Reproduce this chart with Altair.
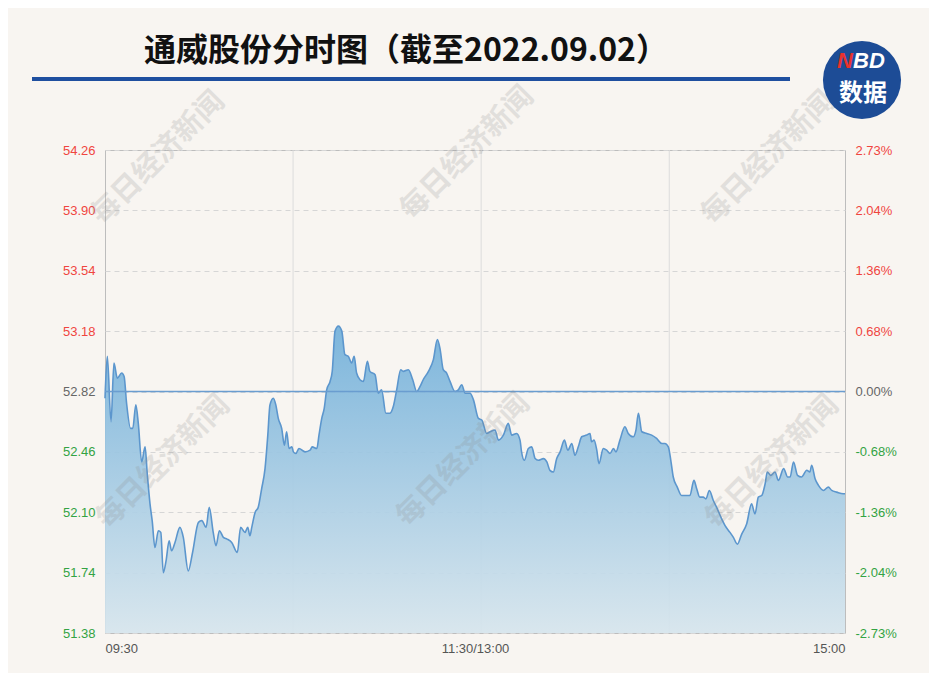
import altair as alt
import pandas as pd

# ---------------- data ----------------
minutes = [0, 0.75, 1.95, 2.9, 4.0, 5.4, 6.2, 7.0, 8.3, 9.0, 10.0, 10.8, 11.9, 13.0, 13.7, 14.6, 15.3,
           16.2, 17.3, 18.1, 18.9, 19.8, 20.8, 21.6, 22.7, 24.3, 25.4, 27.0, 28.4, 30.3, 31.4, 32.8,
           33.8, 35.1, 36.0, 37.1, 38.4, 39.6, 41.1, 42.9, 44.0, 45.4, 46.3, 47.0, 47.6, 48.7, 49.7,
           50.8, 51.9, 52.8, 53.5, 54.6, 55.4, 56.2, 57.3, 58.2, 58.9, 59.7, 60.6, 61.1, 61.9, 62.9,
           64.9, 66.5, 67.2, 68.7, 69.4, 70.3, 71.1, 71.9, 73.0, 73.7, 74.6, 75.7, 76.8, 77.8, 78.9,
           80.0, 80.8, 81.6, 82.7, 83.8, 85.1, 85.9, 87.6, 88.6, 89.7, 91.1, 92.4, 93.5, 94.6, 95.9,
           96.7, 98.4, 99.8, 101.1, 102.2, 103.2, 104.9, 106.5, 107.8, 108.7, 109.7, 110.8, 111.9,
           113.5, 114.6, 115.7, 116.8, 118.4, 119.5, 121.1, 122.2, 123.8, 124.9, 126.5, 127.6, 129.2,
           130.8, 131.9, 133.5, 134.6, 135.1, 136.0, 137.3, 138.4, 139.5, 140.5, 142.2, 143.3, 144.3,
           145.4, 146.5, 147.6, 149.0, 150.1, 151.4, 152.4, 153.5, 154.6, 156.2, 157.3, 157.8, 158.6,
           159.5, 160.2, 161.6, 162.7, 163.8, 164.9, 165.7, 167.0, 168.6, 169.7, 171.3, 172.2, 173.0,
           174.1, 175.7, 177.3, 178.9, 180.6, 181.6, 182.7, 183.5, 184.3, 185.6, 187.0, 188.4, 189.7,
           191.0, 191.9, 192.9, 194.0, 194.9, 196.0, 197.3, 198.6, 200.0, 201.1, 202.7, 203.8, 205.1,
           206.5, 208.1, 209.7, 210.8, 211.9, 213.0, 214.1, 214.8, 215.9, 217.3, 218.4, 220.1, 221.4,
           222.2, 223.3, 224.6, 225.9, 227.6, 228.6, 229.2, 230.3, 231.4, 233.0, 234.6, 235.7, 237.3,
           239.4, 240]
prices = [52.78, 53.03, 52.64, 52.99, 52.90, 52.93, 52.91, 52.75, 52.60, 52.60, 52.74, 52.63, 52.40,
          52.49, 52.33, 52.15, 52.05, 51.89, 51.99, 51.98, 51.74, 51.81, 51.93, 51.87, 51.92, 52.01,
          51.95, 51.75, 51.86, 52.04, 52.05, 52.01, 52.13, 51.98, 51.90, 51.99, 51.95, 51.94, 51.92,
          51.86, 52.01, 51.98, 52.01, 51.96, 52.01, 52.10, 52.13, 52.24, 52.36, 52.56, 52.74, 52.78,
          52.74, 52.66, 52.60, 52.50, 52.58, 52.48, 52.49, 52.46, 52.45, 52.48, 52.46, 52.47, 52.49,
          52.48, 52.56, 52.66, 52.72, 52.83, 52.88, 52.94, 53.18, 53.21, 53.18, 53.04, 53.03, 52.99,
          53.03, 52.93, 52.89, 52.88, 53.00, 52.94, 52.92, 52.81, 52.83, 52.69, 52.69, 52.73, 52.83,
          52.95, 52.94, 52.95, 52.89, 52.82, 52.85, 52.89, 52.94, 53.01, 53.13, 53.07, 52.95, 52.93,
          52.88, 52.82, 52.83, 52.86, 52.81, 52.81, 52.77, 52.66, 52.65, 52.57, 52.58, 52.59, 52.53,
          52.56, 52.63, 52.56, 52.57, 52.53, 52.46, 52.41, 52.48, 52.49, 52.42, 52.41, 52.42, 52.40,
          52.35, 52.34, 52.42, 52.46, 52.53, 52.47, 52.51, 52.44, 52.49, 52.55, 52.56, 52.57, 52.52,
          52.53, 52.47, 52.39, 52.48, 52.47, 52.45, 52.48, 52.46, 52.53, 52.61, 52.57, 52.55, 52.59,
          52.69, 52.58, 52.57, 52.56, 52.54, 52.51, 52.51, 52.49, 52.41, 52.31, 52.25, 52.20, 52.20,
          52.20, 52.29, 52.24, 52.19, 52.19, 52.18, 52.23, 52.17, 52.12, 52.06, 52.02, 51.98, 51.95,
          51.91, 51.97, 52.03, 52.15, 52.09, 52.19, 52.20, 52.27, 52.34, 52.32, 52.34, 52.29, 52.36,
          52.31, 52.31, 52.40, 52.32, 52.31, 52.35, 52.34, 52.38, 52.30, 52.26, 52.23, 52.25, 52.23,
          52.22, 52.21, 52.21]
pre_close = 52.82
y_ticks = [51.38, 51.74, 52.10, 52.46, 52.82, 53.18, 53.54, 53.90, 54.26]
x_tick_minutes = [0, 120, 240]
x_tick_labels = ["09:30", "11:30/13:00", "15:00"]
v_grid_minutes = [61, 122, 183]
title_text = "通威股份分时图（截至2022.09.02）"
watermark_text = "每日经济新闻"

# ---------------- styling ----------------
W, H = 740, 483
BG = "#f8f5f1"
RED = "#f0453f"
GREEN = "#33a343"
GRAY = "#666666"
LINE = "#5c96cd"
NAVY = "#1d4c96"
FONT = "Liberation Sans"
CJK = "Noto Sans CJK SC"

df = pd.DataFrame({"m": minutes, "p": prices})
one = pd.DataFrame({"k": [0]})

x_scale = alt.Scale(domain=[0, 240], nice=False, zero=False)
y_scale = alt.Scale(domain=[y_ticks[0], y_ticks[-1]], nice=False, zero=False)

x_expr = "".join(f"datum.value == {m} ? '{l}' : " for m, l in zip(x_tick_minutes, x_tick_labels)) + "''"

label_color = {
    "condition": [
        {"test": f"datum.value > {pre_close + 0.005}", "value": RED},
        {"test": f"datum.value < {pre_close - 0.005}", "value": GREEN},
    ],
    "value": GRAY,
}

x_axis = alt.Axis(values=x_tick_minutes, labelExpr=x_expr, labelFlush=True, grid=False, ticks=False,
                  domain=False, labelPadding=9, labelFontSize=13, labelFont=FONT, labelColor="#555555",
                  title=None)
left_axis = alt.Axis(orient="left", values=y_ticks, format=".2f", grid=True, gridDash=[5, 4],
                     gridColor="#d6d6d6", ticks=False, domain=False, labelPadding=10, labelFontSize=13,
                     labelFont=FONT, labelColor=label_color, title=None)
pct_expr = (f"replace(format((datum.value - {pre_close}) / {pre_close} * 100, '.2f'), '\u2212', '-') + '%'")
right_axis = alt.Axis(orient="right", values=y_ticks, labelExpr=pct_expr, grid=False, ticks=False,
                      domain=False, labelPadding=10, labelFontSize=13, labelFont=FONT,
                      labelColor=label_color, title=None)

base = alt.Chart(df)

vgrid = alt.Chart(pd.DataFrame({"g": v_grid_minutes})).mark_rule(color="#dcdcdc", strokeWidth=1).encode(
    x=alt.X("g:Q", scale=x_scale, axis=x_axis)
)

price_layers = alt.layer(
    base.mark_area(
        interpolate="monotone",
        opacity=0.92,
        color=alt.Gradient(
            gradient="linear",
            stops=[alt.GradientStop(color="#72b0da", offset=0), alt.GradientStop(color="#d6e5ed", offset=1)],
            x1=1, x2=1, y1=0, y2=1,
        ),
    ).encode(
        x=alt.X("m:Q", scale=x_scale, axis=x_axis),
        y=alt.Y("p:Q", scale=y_scale, axis=left_axis),
        y2=alt.datum(y_ticks[0]),
    ),
    base.mark_line(interpolate="monotone", color=LINE, strokeWidth=1.6).encode(
        x=alt.X("m:Q", scale=x_scale, axis=x_axis),
        y=alt.Y("p:Q", scale=y_scale, axis=left_axis),
    ),
)

zero = alt.Chart(pd.DataFrame({"pc": [pre_close]})).mark_rule(color="#6a9dd0", strokeWidth=1.5).encode(
    y=alt.Y("pc:Q", scale=y_scale, axis=right_axis)
)


def txt(text, x, y, **kw):
    return alt.Chart(one).mark_text(text=text, **kw).encode(x=alt.value(x), y=alt.value(y))


watermarks = [
    txt(watermark_text, x, y, fontSize=29, font=CJK, fontWeight="bold", angle=315, color="#8a8a8a",
        opacity=0.2, align="center", baseline="middle")
    for x, y in [(53, 8), (362, 3), (663, 8), (58, 312), (358, 310), (667, 312)]
]

title = txt(title_text, 301, -99, fontSize=32, font=CJK, fontWeight="bold", color="#111111",
            align="center", baseline="middle")

underline = alt.Chart(one).mark_rule(color="#1f4f9f", strokeWidth=4).encode(
    x=alt.value(-73), x2=alt.value(685), y=alt.value(-71)
)

logo = alt.Chart(one).mark_circle(size=6100, color=NAVY, opacity=1).encode(
    x=alt.value(757), y=alt.value(-70)
)
logo_n = txt("N", 748, -89, fontSize=22, font=FONT, fontWeight="bold", fontStyle="italic",
             color="#e8322e", align="right", baseline="middle")
logo_bd = txt("BD", 748, -89, fontSize=22, font=FONT, fontWeight="bold", fontStyle="italic",
              color="white", align="left", baseline="middle")
logo_data = txt("数据", 758, -56, fontSize=24, font=CJK, fontWeight="bold", color="white",
                align="center", baseline="middle")

decor = alt.layer(*watermarks, title, underline, logo, logo_n, logo_bd, logo_data)

chart = alt.layer(
    vgrid, price_layers, zero, decor
).resolve_scale(y="independent").properties(
    width=W,
    height=H,
    padding={"left": 97, "top": 142, "right": 84, "bottom": 40},
    autosize=alt.AutoSizeParams(type="none"),
    background=BG,
).configure_view(stroke="#bdbdbd", strokeWidth=1)

chart.save("out.html", embed_options={"renderer": "svg", "actions": False})
